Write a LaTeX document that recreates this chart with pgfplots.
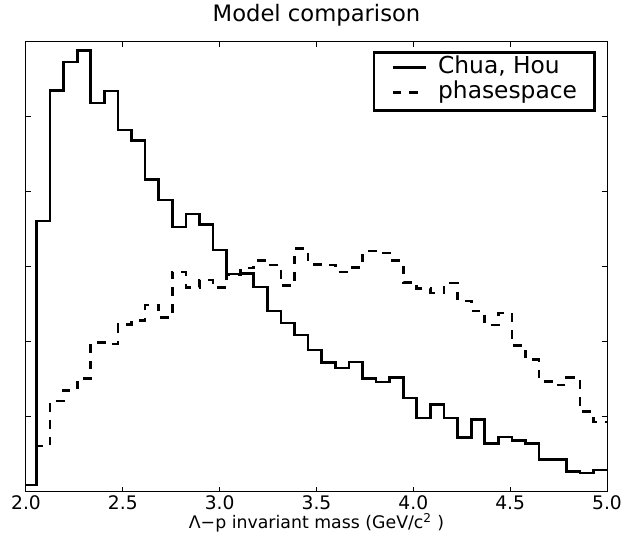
\documentclass[border=0pt]{standalone}
\usepackage{pgfplots}
\pgfplotsset{compat=1.18}
\usepackage{fontspec}
\setmainfont{DejaVu Sans}
\begin{document}
\begin{tikzpicture}
\begin{axis}[
  scale only axis, width=435.75pt, height=337.5pt,
  xmin=2, xmax=5, ymin=0, ymax=6,
  xtick={2,2.5,3,3.5,4,4.5,5},
  /pgf/number format/assume math mode=true,
  xticklabel style={/pgf/number format/fixed, /pgf/number format/precision=1, /pgf/number format/fixed zerofill, inner sep=0pt, yshift=-3pt},
  ytick={0,1,2,3,4,5,6}, yticklabels={},
  tick align=inside, major tick length=3.75pt,
  every tick/.style={black, line width=0.75pt},
  axis line style={line width=0.75pt},
  ticklabel style={font=\fontsize{14}{16}\selectfont},
  title={Model comparison},
  title style={font=\fontsize{17}{20}\selectfont, at={(axis description cs:0.5,1)}, anchor=base, yshift=9pt},
  xlabel={Λ−p invariant mass (GeV/c\textsuperscript{2}\ )},
  xlabel style={font=\fontsize{13}{15}\selectfont, inner sep=0pt, at={(axis description cs:0.5,0)}, anchor=base, yshift=-27.75pt},
  legend cell align=left,
  legend style={at={(rel axis cs:1,1)}, anchor=north east, xshift=-8.6pt, yshift=-7.1pt,
    draw=black, line width=1.8pt, fill=white, inner xsep=13pt, inner ysep=4pt,
    column sep=8.25pt, row sep=2.5pt, font=\fontsize{17.5}{20}\selectfont,
    nodes={inner sep=0pt, text height=12pt, text depth=4.5pt}},
  legend image code/.code={\draw[#1] (0pt,1pt) -- (24.75pt,1pt);},
]
\addplot[const plot, black, line width=2pt] coordinates {
(1.9839,0.09) (2.0540,3.61) (2.1241,5.35) (2.1943,5.73) (2.2644,5.88) (2.3346,5.18)
(2.4047,5.34) (2.4749,4.82) (2.5450,4.68) (2.6151,4.16) (2.6853,3.89) (2.7554,3.53)
(2.8256,3.70) (2.8957,3.56) (2.9659,3.22) (3.0360,2.90) (3.1061,2.91) (3.1763,2.73)
(3.2464,2.41) (3.3166,2.25) (3.3867,2.09) (3.4569,1.89) (3.5270,1.72) (3.5971,1.65)
(3.6673,1.73) (3.7374,1.51) (3.8076,1.46) (3.8777,1.52) (3.9479,1.25) (4.0180,0.98)
(4.0881,1.16) (4.1583,0.98) (4.2284,0.72) (4.2986,0.96) (4.3687,0.64) (4.4389,0.73)
(4.5090,0.68) (4.5791,0.64) (4.6493,0.43) (4.7194,0.43) (4.7896,0.27) (4.8597,0.25)
(4.9299,0.29) (5.0000,0.29)
};
\addlegendentry{Chua, Hou}
\addplot[const plot, black, line width=2pt, dash pattern=on 6.5pt off 6pt] coordinates {
(1.9839,0.09) (2.0540,0.61) (2.1241,1.21) (2.1943,1.35) (2.2644,1.51) (2.3346,1.99)
(2.4047,1.97) (2.4749,2.23) (2.5450,2.28) (2.6151,2.49) (2.6853,2.32) (2.7554,2.93)
(2.8256,2.72) (2.8957,2.82) (2.9659,2.72) (3.0360,2.89) (3.1061,2.98) (3.1763,3.08)
(3.2464,3.02) (3.3166,2.75) (3.3867,3.24) (3.4569,3.03) (3.5270,3.02) (3.5971,2.93)
(3.6673,2.99) (3.7374,3.21) (3.8076,3.18) (3.8777,3.08) (3.9479,2.79) (4.0180,2.71)
(4.0881,2.65) (4.1583,2.78) (4.2284,2.54) (4.2986,2.41) (4.3687,2.22) (4.4389,2.38)
(4.5090,1.95) (4.5791,1.76) (4.6493,1.47) (4.7194,1.42) (4.7896,1.52) (4.8597,1.07)
(4.9299,0.93) (5.0000,0.93)
};
\addlegendentry{phasespace}
\end{axis}
\path ([shift={(-19.5pt,-39.75pt)}]current axis.south west) rectangle ([shift={(15pt,29.25pt)}]current axis.north east);
\end{tikzpicture}
\end{document}
